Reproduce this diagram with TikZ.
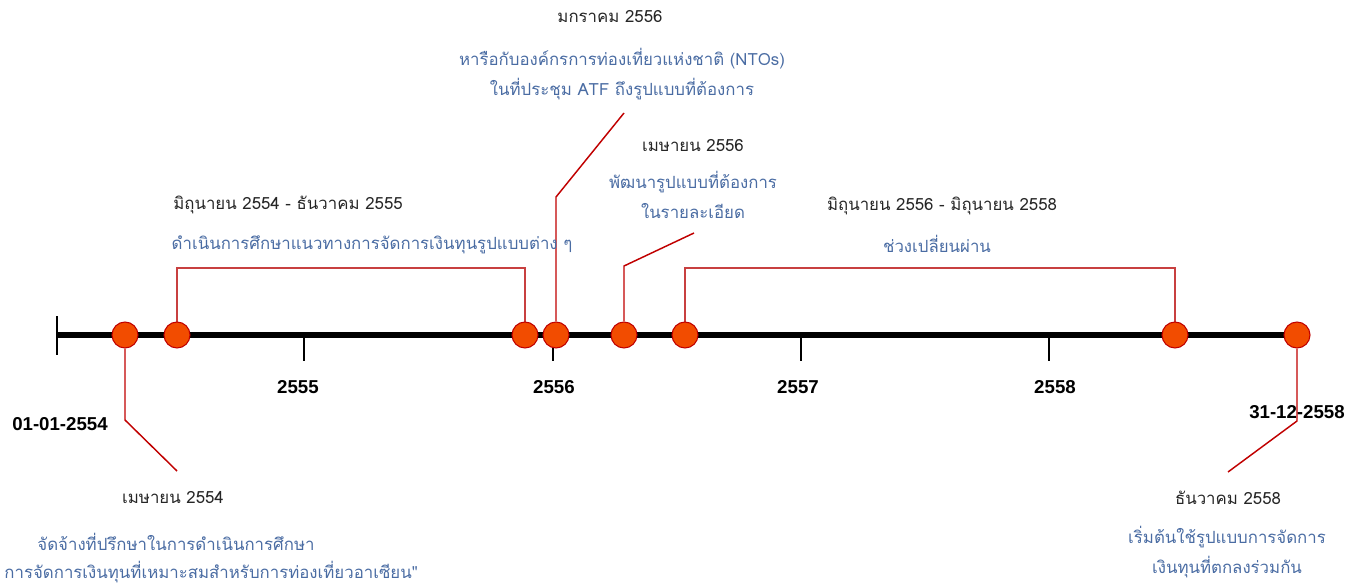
\documentclass[tikz,border=0pt]{standalone}
\usepackage{fontspec}
\setmainfont{Liberation Sans}
\newfontfamily\thaifont[Script=Thai]{Loma}
\usetikzlibrary{positioning}
\definecolor{evfill}{RGB}{242,76,0}
\definecolor{evline}{RGB}{192,0,0}
\definecolor{evbrack}{RGB}{200,64,64}
\definecolor{txtblue}{RGB}{74,108,163}
\definecolor{txtgray}{RGB}{38,38,38}

\begin{document}
\begin{tikzpicture}[x=0.75pt, y=-0.75pt,
  event/.style={circle, draw=evline, fill=evfill, line width=0.8pt,
    minimum size=19.5pt, inner sep=0pt},
  link/.style={draw=evline, line width=1.1pt},
  brace/.style={draw=evbrack, line width=1.6pt},
  tick/.style={line width=1pt},
  year/.style={font=\bfseries\fontsize{14}{16}\selectfont, inner sep=0pt},
  date/.style={font=\thaifont\fontsize{12.6}{16}\selectfont, text=txtgray, inner sep=0pt},
  note/.style={font=\thaifont\fontsize{12.6}{23}\selectfont, text=txtblue,
    align=center, inner sep=0pt}
]
  \useasboundingbox (0,0) rectangle (1354,588);

  % axis
  \coordinate (start) at (57,335);
  \coordinate (stop) at (1297,335);
  \draw[line width=4pt] (start) -- (stop);
  \draw[tick] (57,316) -- (57,355);
  \draw[tick] (304,335) -- (304,361);
  \draw[tick] (553,335) -- (553,361);
  \draw[tick] (801,335) -- (801,361);
  \draw[tick] (1049,335) -- (1049,361);

  \node[year] (y55) at (298,387) {2555};
  \node[year] (y56) at (554,387) {2556};
  \node[year] (y57) at (798,387) {2557};
  \node[year] (y58) at (1055,387) {2558};
  \node[year] (first) at (60,424) {01-01-2554};
  \node[year] (last) at (1297,412) {31-12-2558};

  % bend points
  \coordinate (k1) at (125,420);
  \coordinate (f1) at (177,471);
  \coordinate (k4) at (556,197);
  \coordinate (f4) at (624,113);
  \coordinate (k5) at (624,266);
  \coordinate (f5) at (694,233);
  \coordinate (k8) at (1297,421);
  \coordinate (f8) at (1228,472);

  % brackets
  \draw[brace] (177,335) -- (177,268) -- (525,268) -- (525,335);
  \draw[brace] (685,335) -- (685,268) -- (1175,268) -- (1175,335);

  % events
  \node[event] (e1) at (125,335) {};
  \node[event] (e2) at (177,335) {};
  \node[event] (e3) at (525,335) {};
  \node[event] (e4) at (556,335) {};
  \node[event] (e5) at (624,335) {};
  \node[event] (e6) at (685,335) {};
  \node[event] (e7) at (1175,335) {};
  \node[event] (e8) at (1297,335) {};

  \draw[link] (e1) -- (k1) -- (f1);
  \draw[link] (e4) -- (k4) -- (f4);
  \draw[link] (e5) -- (k5) -- (f5);
  \draw[link] (e8) -- (k8) -- (f8);

  % labels
  \node[date] (d1) at (173,498) {เมษายน 2554};
  \node[note] (n1a) at (176,542) {จัดจ้างที่ปรึกษาในการดำเนินการศึกษา};
  \node[note, anchor=east] (n1b) at (418,572) {การจัดการเงินทุนที่เหมาะสมสำหรับการท่องเที่ยวอาเซียน"};

  \node[date] (d2) at (288,205) {มิถุนายน 2554 - ธันวาคม 2555};
  \node[note] (n2) at (372,245) {ดำเนินการศึกษาแนวทางการจัดการเงินทุนรูปแบบต่าง ๆ};

  \node[date] (d4) at (610,17) {มกราคม 2556};
  \node[note] (n4) at (622,74) {หารือกับองค์กรการท่องเที่ยวแห่งชาติ (NTOs)\\ในที่ประชุม ATF ถึงรูปแบบที่ต้องการ};

  \node[date] (d5) at (693,146) {เมษายน 2556};
  \node[note] (n5) at (693,195) {พัฒนารูปแบบที่ต้องการ\\ในรายละเอียด};

  \node[date] (d6) at (942,206) {มิถุนายน 2556 - มิถุนายน 2558};
  \node[note] (n6) at (937,244) {ช่วงเปลี่ยนผ่าน};

  \node[date] (d8) at (1228,498) {ธันวาคม 2558};
  \node[note] (n8) at (1227,552) {เริ่มต้นใช้รูปแบบการจัดการ\\เงินทุนที่ตกลงร่วมกัน};
\end{tikzpicture}
\end{document}
